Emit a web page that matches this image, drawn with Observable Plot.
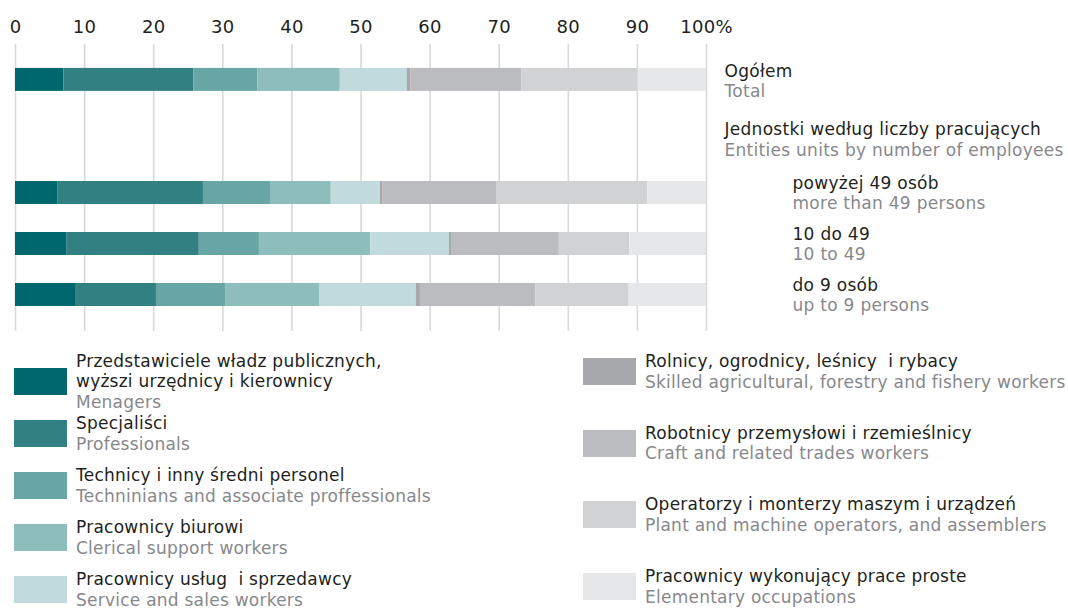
<!DOCTYPE html>
<html>
<head>
<meta charset="utf-8">
<script src="https://cdn.jsdelivr.net/npm/d3@7"></script>
<script src="https://cdn.jsdelivr.net/npm/@observablehq/plot@0.6"></script>
<style>
  body { margin: 0; background: #fff; font-family: "DejaVu Sans", sans-serif; }
  #root { position: relative; width: 1068px; height: 609px; overflow: hidden; background: #fff; }
  #chart { position: absolute; left: 0; top: 0; }
  .item { position: absolute; display: flex; align-items: center; height: 27px; }
  .sw { width: 53px; height: 27px; flex: none; }
  .txt { margin-left: 9px; font-size: 17px; line-height: 20.5px; white-space: pre; letter-spacing: 0.24px; }
  .pl { color: #231f20; }
  .en { color: #87888b; }
</style>
</head>
<body>
<div id="root"><div id="chart"></div></div>
<script>
// ---------- data ----------
const rows = ["Ogółem", "powyżej 49 osób", "10 do 49", "do 9 osób"];
const rowsEN = ["Total", "more than 49 persons", "10 to 49", "up to 9 persons"];
const groupHeaderPL = "Jednostki według liczby pracujących";
const groupHeaderEN = "Entities units by number of employees";

const categoriesPL = [
  "Przedstawiciele władz publicznych,\nwyższi urzędnicy i kierownicy",
  "Specjaliści",
  "Technicy i inny średni personel",
  "Pracownicy biurowi",
  "Pracownicy usług  i sprzedawcy",
  "Rolnicy, ogrodnicy, leśnicy  i rybacy",
  "Robotnicy przemysłowi i rzemieślnicy",
  "Operatorzy i monterzy maszym i urządzeń",
  "Pracownicy wykonujący prace proste"
];
const categoriesEN = [
  "Menagers",
  "Professionals",
  "Techninians and associate proffessionals",
  "Clerical support workers",
  "Service and sales workers",
  "Skilled agricultural, forestry and fishery workers",
  "Craft and related trades workers",
  "Plant and machine operators, and assemblers",
  "Elementary occupations"
];
const palette = ["#00676e", "#338083", "#68a6a6", "#8ebdbe", "#c0dadd", "#a7a8ab", "#bbbcc0", "#d1d2d4", "#e6e7e8"];

const valuesTotal   = [7.0, 18.8, 9.3, 11.9, 9.7, 0.5, 16.1, 16.8, 9.9];
const valuesOver49  = [6.1, 21.1, 9.7, 8.8, 7.1, 0.4, 16.5, 21.8, 8.5];
const values10to49  = [7.4, 19.2, 8.7, 16.1, 11.4, 0.3, 15.6, 10.2, 11.1];
const valuesUpTo9   = [8.8, 11.6, 10.0, 13.6, 14.0, 0.6, 16.7, 13.5, 11.2];
const seriesValues = [valuesTotal, valuesOver49, values10to49, valuesUpTo9];

const xTicks = [0, 10, 20, 30, 40, 50, 60, 70, 80, 90, 100];

// ---------- build ----------
const data = [];
rows.forEach((r, i) => seriesValues[i].forEach((v, j) => data.push({row: r, cat: categoriesPL[j], value: v})));
const yDomain = [rows[0], groupHeaderPL, ...rows.slice(1)];
const labelRows = rows.map((r, i) => ({row: r, pl: r, en: rowsEN[i]}));

const black = "#231f20", gray = "#87888b";
const font = '"DejaVu Sans", sans-serif';

const chart = Plot.plot({
  width: 1068,
  height: 340,
  marginLeft: 15,
  marginRight: 362,
  marginTop: 44,
  marginBottom: 9,
  style: {fontFamily: font, background: "white", color: black, overflow: "visible", letterSpacing: "0.28px"},
  x: {domain: [0, 100], axis: null},
  y: {domain: yDomain, range: [79, 305.7], paddingInner: 0.555, paddingOuter: 0, axis: null},
  color: {domain: categoriesPL, range: palette},
  marks: [
    Plot.gridX(xTicks, {stroke: "#d8d9db", strokeOpacity: 1, strokeWidth: 1.6}),
    Plot.axisX(xTicks, {anchor: "top", tickSize: 0, tickPadding: 12, fontSize: 18, label: null,
      tickFormat: d => d === 100 ? "100%" : String(d)}),
    // total bar (pulled up a little, as in the original layout)
    Plot.barX(data.filter(d => d.row === rows[0]),
      Plot.stackX({x: "value", y: "row", fill: "cat", insetTop: -11.1, insetBottom: 11.1})),
    Plot.barX(data.filter(d => d.row !== rows[0]),
      Plot.stackX({x: "value", y: "row", fill: "cat"})),
    // right-hand labels
    Plot.text(labelRows.slice(0, 1), {y: "row", text: "pl", frameAnchor: "right", textAnchor: "start",
      dx: 18, dy: -19.5, fontSize: 17, fill: black}),
    Plot.text(labelRows.slice(0, 1), {y: "row", text: "en", frameAnchor: "right", textAnchor: "start",
      dx: 18, dy: 0.8, fontSize: 17, fill: gray}),
    Plot.text([groupHeaderPL], {y: d => d, text: d => d, frameAnchor: "right", textAnchor: "start",
      dx: 18, dy: -12.3, fontSize: 17, fill: black}),
    Plot.text([groupHeaderPL], {y: d => d, text: () => groupHeaderEN, frameAnchor: "right", textAnchor: "start",
      dx: 18, dy: 8.3, fontSize: 17, fill: gray}),
    Plot.text(labelRows.slice(1), {y: "row", text: "pl", frameAnchor: "right", textAnchor: "start",
      dx: 86, dy: -9.7, fontSize: 17, fill: black}),
    Plot.text(labelRows.slice(1), {y: "row", text: "en", frameAnchor: "right", textAnchor: "start",
      dx: 86, dy: 10.6, fontSize: 17, fill: gray})
  ]
});
document.getElementById("chart").appendChild(chart);

// ---------- legend ----------
const root = document.getElementById("root");
const legendLayout = [
  {start: 0, count: 5, left: 14, top: 368, step: 52},
  {start: 5, count: 4, left: 583, top: 358, step: 71.7}
];
legendLayout.forEach(col => {
  for (let k = 0; k < col.count; k++) {
    const i = col.start + k;
    const item = document.createElement("div");
    item.className = "item";
    item.style.left = col.left + "px";
    item.style.top = (col.top + k * col.step) + "px";
    const sw = document.createElement("div");
    sw.className = "sw";
    sw.style.background = palette[i];
    const txt = document.createElement("div");
    txt.className = "txt";
    categoriesPL[i].split("\n").forEach(line => {
      const d = document.createElement("div");
      d.className = "pl";
      d.textContent = line;
      txt.appendChild(d);
    });
    const e = document.createElement("div");
    e.className = "en";
    e.textContent = categoriesEN[i];
    txt.appendChild(e);
    item.appendChild(sw);
    item.appendChild(txt);
    root.appendChild(item);
  }
});
</script>
</body>
</html>
